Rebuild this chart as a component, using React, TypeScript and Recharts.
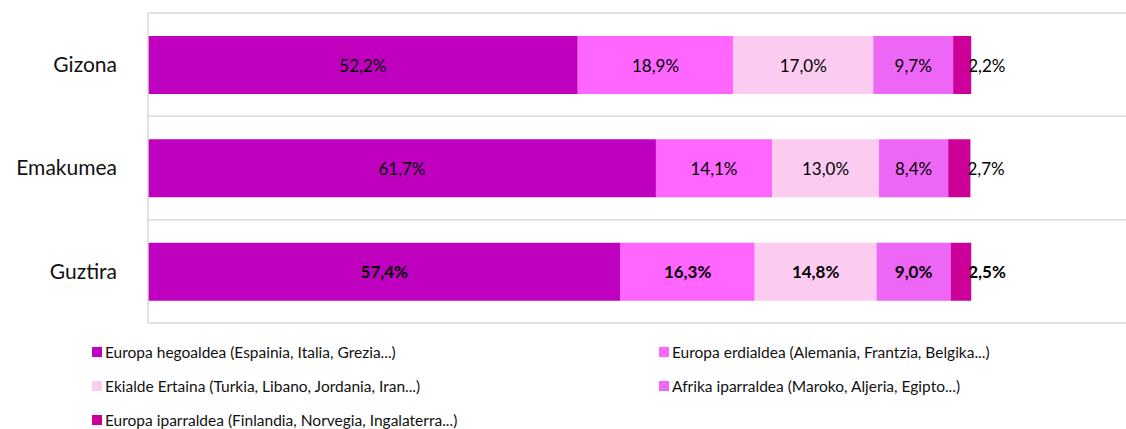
import { BarChart, Bar, XAxis, YAxis, CartesianGrid, Legend, LabelList } from 'recharts'

const categories = ['Gizona', 'Emakumea', 'Guztira']
const hegoaldea = [52.2, 61.7, 57.4]
const erdialdea = [18.9, 14.1, 16.3]
const ekialdea = [17.0, 13.0, 14.8]
const afrika = [9.7, 8.4, 9.0]
const iparraldea = [2.2, 2.7, 2.5]

const seriesNames = [
  'Europa hegoaldea (Espainia, Italia, Grezia...)',
  'Europa erdialdea (Alemania, Frantzia, Belgika...)',
  'Ekialde Ertaina (Turkia, Libano, Jordania, Iran...)',
  'Afrika iparraldea (Maroko, Aljeria, Egipto...)',
  'Europa iparraldea (Finlandia, Norvegia, Ingalaterra...)',
]
const colors = ['#BF00BF', '#FF66FF', '#FCCCF0', '#EE66F6', '#CC0099']
const keys = ['s1', 's2', 's3', 's4', 's5']

const data = categories.map((name, i) => ({
  name,
  s1: hegoaldea[i],
  s2: erdialdea[i],
  s3: ekialdea[i],
  s4: afrika[i],
  s5: iparraldea[i],
}))

const FONT = 'Lato, "Open Sans", sans-serif'
const fmt = (v: number) => v.toFixed(1).replace('.', ',') + '%'

function makeLabel(inside: boolean) {
  return (props: any) => {
    const { x, y, width, height, value, index } = props
    const bold = data[index]?.name === 'Guztira'
    return (
      <text
        x={inside ? x + width / 2 : x + width - 3}
        y={y + height / 2}
        textAnchor={inside ? 'middle' : 'start'}
        dominantBaseline="central"
        fontSize={17}
        fontFamily={FONT}
        fontWeight={bold ? 700 : 400}
        fill="#000"
      >
        {fmt(value)}
      </text>
    )
  }
}

function LegendBox() {
  return (
    <div
      style={{
        display: 'grid',
        gridTemplateColumns: '567px 460px',
        rowGap: 13,
        paddingLeft: 92,
        paddingTop: 18,
        fontFamily: FONT,
        fontSize: 15.5,
        color: '#111',
      }}
    >
      {seriesNames.map((n, i) => (
        <div key={n} style={{ display: 'flex', alignItems: 'center', height: 21 }}>
          <span style={{ width: 10, height: 10, background: colors[i], marginRight: 3, display: 'inline-block' }} />
          <span>{n}</span>
        </div>
      ))}
    </div>
  )
}

export default function App() {
  return (
    <div style={{ position: 'absolute', left: 0, top: 0, background: '#fff' }}>
      <BarChart
        width={1126}
        height={429}
        data={data}
        layout="vertical"
        barSize={58}
        margin={{ top: 13, right: 0, left: 0, bottom: 10 }}
      >
        <CartesianGrid
          vertical={false}
          stroke="#d9d9d9"
          strokeWidth={1.5}
          horizontalCoordinatesGenerator={({ offset }: any) =>
            [0, 1, 2, 3].map((i) => offset.top + (i * offset.height) / 3)
          }
        />
        <XAxis type="number" domain={[0, 118.8]} hide />
        <YAxis
          type="category"
          dataKey="name"
          width={148}
          axisLine={{ stroke: '#d9d9d9', strokeWidth: 1.5 }}
          tickLine={false}
          tick={{ fontSize: 21, fontFamily: FONT, fill: '#111' }}
          tickMargin={25}
        />
        <Legend verticalAlign="bottom" height={96} content={() => <LegendBox />} />
        {keys.map((k, i) => (
          <Bar key={k} dataKey={k} stackId="a" fill={colors[i]} isAnimationActive={false}>
            <LabelList dataKey={k} content={makeLabel(i < 4)} />
          </Bar>
        ))}
      </BarChart>
    </div>
  )
}
